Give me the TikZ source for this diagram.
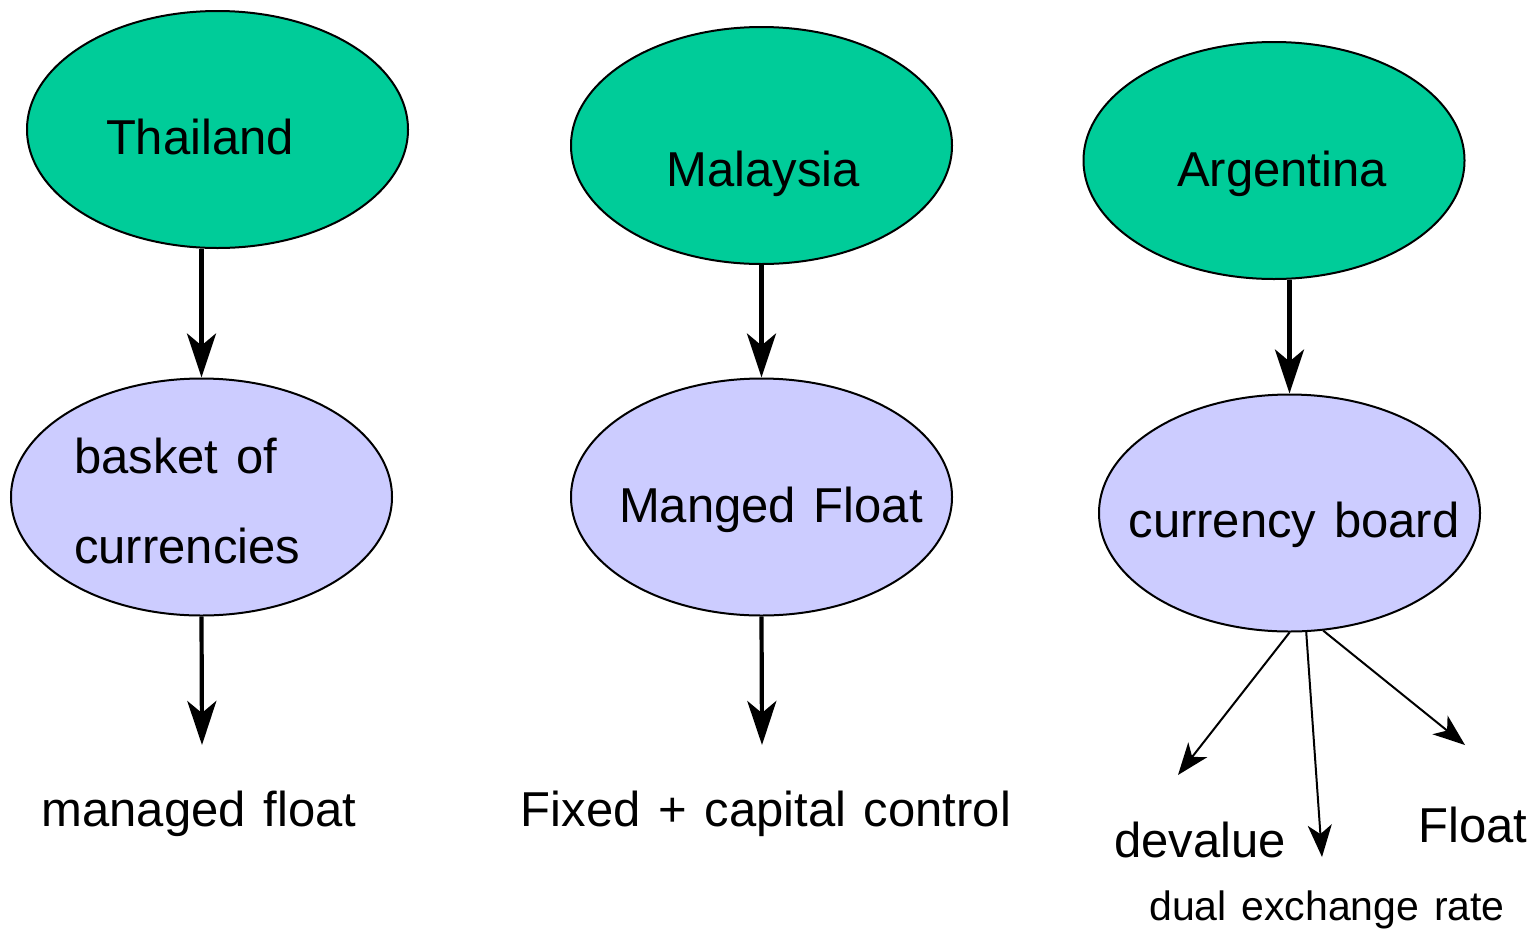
\documentclass[tikz,border=0pt]{standalone}
\usepackage{fontspec}
\setmainfont[WordSpace=1.3]{Liberation Sans}
\usetikzlibrary{shapes.geometric,arrows.meta}
\definecolor{countryfill}{HTML}{00CC99}
\definecolor{regimefill}{HTML}{CCCCFF}
\begin{document}
\begin{tikzpicture}[x=1pt,y=-1pt,
  oval/.style={ellipse, draw=black, line width=2pt, minimum width=381pt,
    minimum height=237pt, inner sep=0pt},
  country/.style={oval, fill=countryfill},
  regime/.style={oval, fill=regimefill},
  big/.style={inner sep=0pt, anchor=base, font=\fontsize{49}{59}\selectfont},
  small/.style={inner sep=0pt, anchor=base, font=\fontsize{41}{49}\selectfont},
  thickarrow/.style={line width=4.2pt, -{Stealth[length=44pt,width=29pt,inset=12pt]}},
  thinarrow/.style={line width=2pt, -{Stealth[length=32pt,width=24pt,inset=9pt]}}
]
\useasboundingbox (0,0) rectangle (1539,930);

% countries
\node[country] (thai)  at (217.5,129.5) {};
\node[country] (malay) at (761.5,145.5) {};
\node[country] (arg)   at (1274,160.5) {};
\node[big] (thaiT)  at (200,154) {Thailand};
\node[big] (malayT) at (763,186) {Malaysia};
\node[big] (argT)   at (1282,186) {Argentina};

% exchange-rate regimes
\node[regime] (basket) at (201.5,497) {};
\node[regime] (manged) at (761.5,497) {};
\node[regime] (board)  at (1289.5,513) {};
\node[big, anchor=base west] (basketA) at (74,473) {basket of};
\node[big, anchor=base west] (basketB) at (74,563) {currencies};
\node[big] (mangedT) at (771,522) {Manged Float};
\node[big] (boardT)  at (1294,537) {currency board};

% outcomes
\coordinate (thaiEnd)  at (202,745);
\coordinate (malayEnd) at (762,745);
\coordinate (devEnd)   at (1178,775);
\coordinate (dualEnd)  at (1322,857);
\coordinate (floatEnd) at (1465,745);
\node[big] (managedT) at (199,826) {managed float};
\node[big] (fixedT)   at (766,826) {Fixed + capital control};
\node[big] (devT)     at (1200,857) {devalue};
\node[big] (floatT)   at (1473,842) {Float};
\node[small] (dualT)  at (1327,920) {dual exchange rate};

% connectors
\draw[thickarrow] (thai.south -| basket.north) -- (basket.north);
\draw[thickarrow] (malay.south) -- (manged.north);
\draw[thickarrow] (arg.south -| board.north) -- (board.north);
\draw[thickarrow] (basket.south) -- (thaiEnd);
\draw[thickarrow] (manged.south) -- (malayEnd);
\draw[thinarrow] (board.south) -- (devEnd);
\draw[thinarrow] (board.-82.5) -- (dualEnd);
\draw[thinarrow] (board.-74.5) -- (floatEnd);
\end{tikzpicture}
\end{document}
